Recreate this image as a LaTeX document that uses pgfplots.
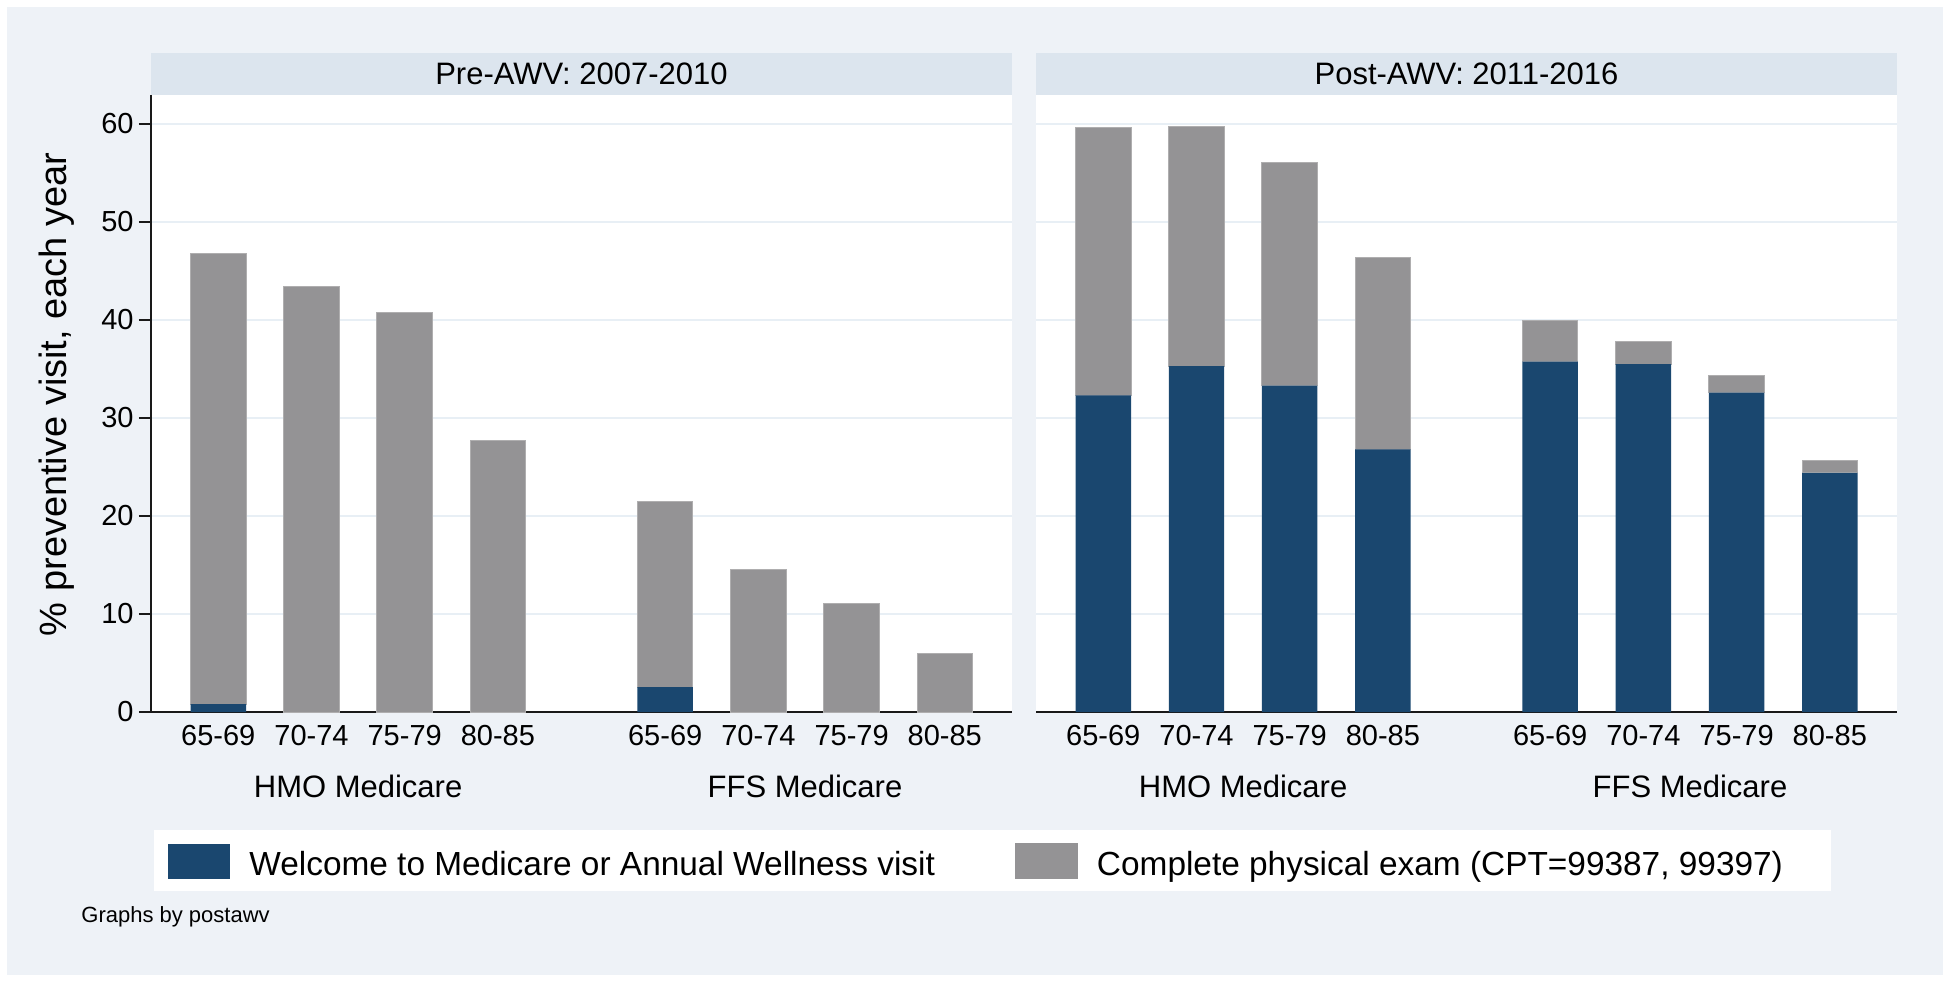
\documentclass[border=0pt]{standalone}
\usepackage{pgfplots}
\pgfplotsset{compat=1.18}
\usepackage{fontspec}
\setmainfont{Liberation Sans}
\definecolor{bgc}{RGB}{238,242,247}
\definecolor{stripc}{RGB}{220,229,238}
\definecolor{gridc}{RGB}{232,239,245}
\definecolor{awv}{RGB}{26,71,111}
\definecolor{cpe}{RGB}{148,147,149}
\definecolor{axc}{RGB}{25,25,25}

\pgfplotsset{
  panel/.style={
    scale only axis, width=430.5pt, height=308.5pt,
    anchor=south west,
    xmin=0.278, xmax=9.516, ymin=0, ymax=62.96,
    ybar stacked, bar width=0.595,
    axis background/.style={fill=white},
    clip=false,
    xtick={1,2,3,4,5.795,6.795,7.795,8.795},
    xticklabels={65-69,70-74,75-79,80-85,65-69,70-74,75-79,80-85},
    xtick style={draw=none},
    xticklabel style={font=\fontsize{14.5}{17}\selectfont, anchor=base, inner sep=0pt, yshift=-10.5pt},
    ytick={0,10,...,60},
    ymajorgrids, grid style={gridc, line width=1pt},
    axis x line*=bottom, axis y line*=left,
    axis line style={-, axc, line width=1pt},
    tick align=outside,
    major tick length=6pt,
    ytick style={axc, line width=0.7pt},
    yticklabel style={font=\fontsize{14.5}{17}\selectfont, anchor=east, inner sep=0pt, xshift=-2.5pt},
    /pgf/number format/assume math mode=true,
  },
  bluebar/.style={fill=awv, draw=none,
    legend image code/.code={\fill[awv] (0pt,-1.5pt) rectangle (31pt,16pt);}},
  graybar/.style={fill=cpe, draw=cpe!75!white, line width=0.5pt,
    legend image code/.code={\fill[cpe] (0pt,-1.5pt) rectangle (31pt,16pt);}},
}

\begin{document}
\begin{tikzpicture}
\fill[white] (0pt,0pt) rectangle (975pt,491pt);
\fill[bgc] (3.5pt,3.5pt) rectangle (971.5pt,487.5pt);
\fill[white] (77pt,45.5pt) rectangle (915.5pt,76pt);
\node[anchor=west, inner sep=0pt, font=\fontsize{11}{13}\selectfont] at (40.5pt,32.5pt) {Graphs by postawv};

\begin{axis}[panel, at={(75.5pt,135pt)},
  ylabel={\% preventive visit, each year},
  ylabel style={at={(axis description cs:-0.109,0.515)}, anchor=center, font=\fontsize{19}{22}\selectfont},
  legend columns=2,
  legend style={at={(axis description cs:0,0)}, anchor=north west, xshift=8.5pt, yshift=-65.5pt,
    draw=none, fill=none, inner sep=0pt, font=\fontsize{16.7}{19}\selectfont,
    nodes={inner sep=0pt, anchor=base west},
    /tikz/every odd column/.append style={column sep=9.5pt},
    /tikz/every even column/.append style={column sep=40pt}},
]
\fill[stripc] (rel axis cs:0,1) rectangle ([yshift=21pt]rel axis cs:1,1)
  ([yshift=5.25pt]rel axis cs:0.5,1) node[anchor=base, text=black, font=\fontsize{15.5}{18}\selectfont] {Pre-AWV: 2007-2010};
\addplot[bluebar] coordinates {(1,0.8) (2,0) (3,0) (4,0) (5.795,2.55) (6.795,0) (7.795,0) (8.795,0)};
\addplot[graybar] coordinates {(1,46.0) (2,43.4) (3,40.75) (4,27.7) (5.795,18.95) (6.795,14.5) (7.795,11.06) (8.795,6.0)};
\legend{Welcome to Medicare or Annual Wellness visit, Complete physical exam (CPT=99387{,} 99397)}
\node[anchor=base, yshift=-42.5pt, font=\fontsize{15.5}{18}\selectfont] at (axis cs:2.5,0) {HMO Medicare};
\node[anchor=base, yshift=-42.5pt, font=\fontsize{15.5}{18}\selectfont] at (axis cs:7.295,0) {FFS Medicare};
\end{axis}

\begin{axis}[panel, at={(518pt,135pt)},
  y axis line style={draw=none}, ytick style={draw=none}, yticklabels={},
]
\fill[stripc] (rel axis cs:0,1) rectangle ([yshift=21pt]rel axis cs:1,1)
  ([yshift=5.25pt]rel axis cs:0.5,1) node[anchor=base, text=black, font=\fontsize{15.5}{18}\selectfont] {Post-AWV: 2011-2016};
\addplot[bluebar] coordinates {(1,32.3) (2,35.3) (3,33.3) (4,26.8) (5.795,35.75) (6.795,35.5) (7.795,32.6) (8.795,24.4)};
\addplot[graybar] coordinates {(1,27.3) (2,24.4) (3,22.76) (4,19.6) (5.795,4.15) (6.795,2.3) (7.795,1.76) (8.795,1.3)};
\node[anchor=base, yshift=-42.5pt, font=\fontsize{15.5}{18}\selectfont] at (axis cs:2.5,0) {HMO Medicare};
\node[anchor=base, yshift=-42.5pt, font=\fontsize{15.5}{18}\selectfont] at (axis cs:7.295,0) {FFS Medicare};
\end{axis}
\end{tikzpicture}
\end{document}
